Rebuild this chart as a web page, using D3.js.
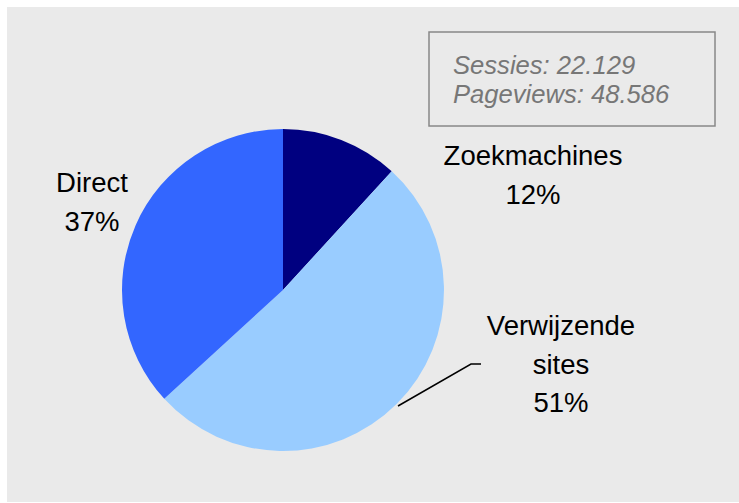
<!DOCTYPE html>
<html>
<head>
<meta charset="utf-8">
<script src="https://cdn.jsdelivr.net/npm/d3@7"></script>
<style>
  body { margin: 0; background: #ffffff; }
  text { font-family: "Liberation Sans", Arial, sans-serif; }
</style>
</head>
<body>
<script>
  //data for the pie
  var categories = ["Zoekmachines", "Verwijzende sites", "Direct"];
  var shares = [11.8, 51.4, 36.8];
  var colors = ["#000080", "#99ccff", "#3366ff"];
  var infoLines = ["Sessies: 22.129", "Pageviews: 48.586"];

  var width = 739, height = 503;

  var svg = d3.select("body").append("svg")
      .attr("width", width)
      .attr("height", height);

  //gray chart area
  svg.append("rect")
      .attr("x", 7).attr("y", 7)
      .attr("width", width - 7).attr("height", 495)
      .attr("fill", "#eaeaea");

  var cx = 283, cy = 290, radius = 161;

  var pie = d3.pie().sort(null).value(function(d){ return d; });
  var arc = d3.arc().innerRadius(0).outerRadius(radius);

  var g = svg.append("g").attr("transform", "translate(" + cx + "," + cy + ")");

  g.selectAll(".slice")
    .data(pie(shares))
    .enter()
    .append("path")
      .attr("class", "slice")
      .attr("d", arc)
      .attr("fill", function(d, i){ return colors[i]; });

  //label positions (absolute)
  var labelPos = [
    {x: 533, y: 165, lines: ["Zoekmachines"]},
    {x: 561, y: 335, lines: ["Verwijzende", "sites"]},
    {x: 92, y: 192, lines: ["Direct"]}
  ];

  labelPos.forEach(function(p, i){
    var t = svg.append("text")
        .attr("text-anchor", "middle")
        .attr("font-size", 27.5)
        .attr("fill", "#000");
    var all = p.lines.concat([Math.round(shares[i]) + "%"]);
    all.forEach(function(line, k){
      t.append("tspan")
        .attr("x", p.x)
        .attr("y", p.y + k * 38.5)
        .text(line);
    });
  });

  //leader line for Verwijzende sites
  svg.append("polyline")
      .attr("points", [[398, 406], [471, 364], [481, 364]].join(" "))
      .attr("fill", "none")
      .attr("stroke", "#000")
      .attr("stroke-width", 1.5);

  //info box
  svg.append("rect")
      .attr("x", 429).attr("y", 32)
      .attr("width", 286).attr("height", 94)
      .attr("fill", "none")
      .attr("stroke", "#888")
      .attr("stroke-width", 1.5);

  svg.selectAll(".info")
    .data(infoLines)
    .enter()
    .append("text")
      .attr("class", "info")
      .attr("x", 453)
      .attr("y", function(d, i){ return 74 + i * 28.5; })
      .attr("font-size", 25.6)
      .attr("font-style", "italic")
      .attr("fill", "#777")
      .text(function(d){ return d; });
</script>
</body>
</html>
